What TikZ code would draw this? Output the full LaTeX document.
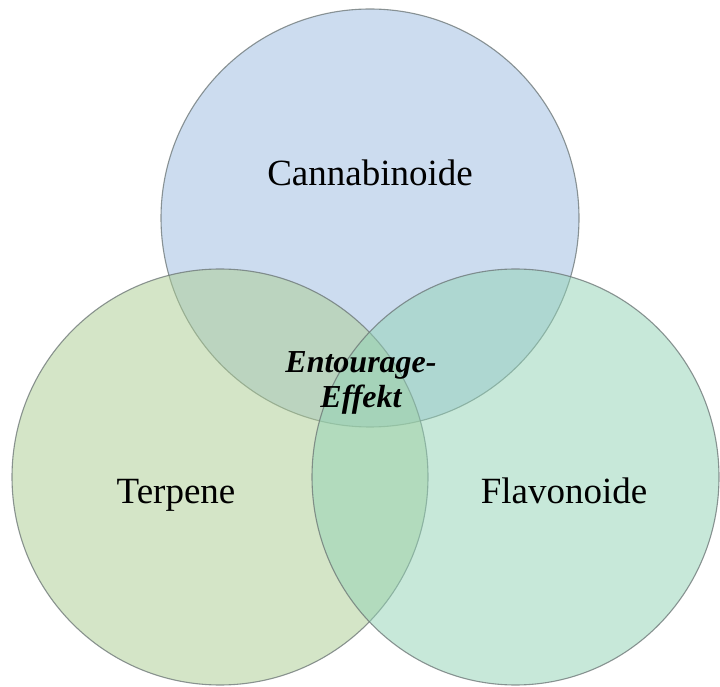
\documentclass[tikz,border=0pt]{standalone}
\usepackage{fontspec}
\setmainfont{Liberation Serif}
\definecolor{cblue}{RGB}{155,187,225}
\definecolor{cgreen}{RGB}{171,205,145}
\definecolor{cteal}{RGB}{145,211,181}
\definecolor{cedge}{RGB}{105,115,115}
\begin{document}
\begin{tikzpicture}[x=1pt,y=1pt,
  setcircle/.style={draw=cedge, draw opacity=0.75, line width=1.1pt, fill opacity=0.5},
  lbl/.style={anchor=base, font=\fontsize{37}{40}\selectfont, inner sep=0pt},
  centerlbl/.style={anchor=base, inner sep=0pt, font=\fontsize{32}{35}\selectfont\bfseries\itshape}]
\useasboundingbox (0,0) rectangle (720,686);
\fill[white] (0,0) rectangle (720,686);
\path[setcircle, fill=cblue] (370,468) circle (209);
\path[setcircle, fill=cgreen] (220,209) circle (208);
\path[setcircle, fill=cteal] (515.5,209) ellipse [x radius=203.5, y radius=208];
\node[lbl] (can) at (370,500) {Cannabinoide};
\node[lbl] (ter) at (176,183) {Terpene};
\node[lbl] (fla) at (564,183) {Flavonoide};
\node[centerlbl] (ent) at (361,313) {\begin{tabular}[t]{@{}c@{}}Entourage-\\Effekt\end{tabular}};
\end{tikzpicture}
\end{document}
